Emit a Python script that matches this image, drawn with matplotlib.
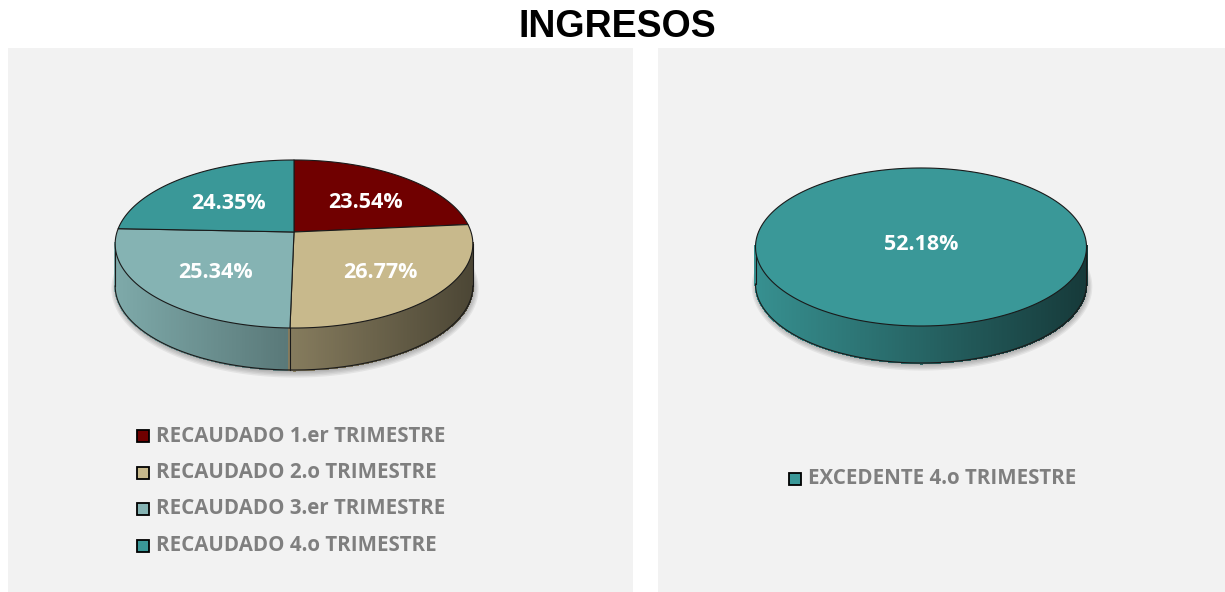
import numpy as np
import matplotlib
matplotlib.use('Agg')
import matplotlib.pyplot as plt
from matplotlib.patches import Polygon, Rectangle
from matplotlib.collections import PolyCollection
from matplotlib.colors import to_rgb

# datos
titulo = 'INGRESOS'
categorias = ['RECAUDADO 1.er TRIMESTRE', 'RECAUDADO 2.o TRIMESTRE',
              'RECAUDADO 3.er TRIMESTRE', 'RECAUDADO 4.o TRIMESTRE']
porcentajes = [23.54, 26.77, 25.34, 24.35]
colores = ['#700000', '#c8b98c', '#85b3b3', '#3a9898']

categorias_exc = ['EXCEDENTE 4.o TRIMESTRE']
porcentajes_exc = [52.18]
colores_exc = ['#3a9898']

K = 0.1429  # perspectiva del pastel
FUENTE = ['Open Sans', 'DejaVu Sans']
GRIS = '#7f7f7f'


def proyectar(cx, cy, a, b, theta, r=1.0):
    s = np.sin(theta)
    c = np.cos(theta)
    den = 1 + K * r * s
    return cx + a * r * c / den, cy - b * r * s / den


def pastel_3d(ax, cx, cy, a, b, h, valores, cols):
    valores = np.asarray(valores, float)
    frac = valores / valores.sum()
    acum = np.concatenate([[0], np.cumsum(frac)])
    lim = np.radians(90 - 360 * acum)  # sentido horario desde arriba

    # sombra
    ts = np.linspace(0, 2 * np.pi, 200)
    for i in range(5):
        sx, sy = proyectar(cx, cy, a + 1.2 * i, b + 1.2 * i, ts)
        ax.add_patch(Polygon(np.c_[sx + 1, sy + h + 2], closed=True,
                             fc='k', ec='none', alpha=0.06, zorder=1))

    # lado frontal con degradado
    t0 = -np.pi + np.arcsin(K)
    t1 = -np.arcsin(K)
    th = np.linspace(t0, t1, 300)
    xs, ys = proyectar(cx, cy, a, b, th)
    xmin, xmax = xs.min(), xs.max()
    quads, fcs = [], []
    for j in range(len(th) - 1):
        tm = 0.5 * (th[j] + th[j + 1])
        pos = ((np.pi / 2 - tm) % (2 * np.pi)) / (2 * np.pi)
        k = min(max(np.searchsorted(acum, pos) - 1, 0), len(cols) - 1)
        xm = 0.5 * (xs[j] + xs[j + 1])
        f = 0.95 - 0.57 * (xm - xmin) / (xmax - xmin)
        fcs.append(tuple(np.clip(np.array(to_rgb(cols[k])) * f, 0, 1)))
        quads.append([(xs[j], ys[j] - 1), (xs[j + 1], ys[j + 1] - 1),
                      (xs[j + 1], ys[j + 1] + h), (xs[j], ys[j] + h)])
    ax.add_collection(PolyCollection(quads, facecolors=fcs, edgecolors=fcs,
                                     linewidths=0.8, antialiased=False, zorder=2))
    ax.plot(xs, ys + h, color='#1a1a1a', lw=0.8, zorder=3)
    for x0, y0 in [(xs[0], ys[0]), (xs[-1], ys[-1])]:
        ax.plot([x0, x0], [y0, y0 + h], color='#1a1a1a', lw=0.8, zorder=3)
    if len(cols) > 1:
        for t in lim:
            tt = (t + np.pi) % (2 * np.pi) - np.pi
            if t0 < tt < t1:
                x0, y0 = proyectar(cx, cy, a, b, tt)
                ax.plot([x0, x0], [y0, y0 + h], color='#1a1a1a', lw=0.8, zorder=3)

    # cara superior
    for k in range(len(cols)):
        arc = np.linspace(lim[k], lim[k + 1], 200)
        px, py = proyectar(cx, cy, a, b, arc)
        if len(cols) > 1:
            pts = np.vstack([[cx, cy], np.c_[px, py]])
        else:
            pts = np.c_[px, py]
        ax.add_patch(Polygon(pts, closed=True, fc=cols[k], ec='#1a1a1a',
                             lw=0.8, zorder=4, joinstyle='round'))

    # etiquetas
    for k, v in enumerate(valores):
        if len(cols) > 1:
            tm = 0.5 * (lim[k] + lim[k + 1])
            lx, ly = proyectar(cx, cy, a, b, tm, 0.6)
            ly += 5
            lx += 4
        else:
            lx, ly = cx, cy + 9
        ax.text(lx, ly, f'{v:.2f}%', ha='center', va='center', color='white',
                fontsize=15.5, fontweight='bold', family=FUENTE, zorder=5)


def leyenda(ax, x, y0, paso, nombres, cols):
    for i, (n, c) in enumerate(zip(nombres, cols)):
        y = y0 + i * paso
        ax.add_patch(Rectangle((x, y - 6), 12, 12, fc=c, ec='black', lw=1.3, zorder=4))
        ax.text(x + 19, y, n, ha='left', va='center', color=GRIS,
                fontsize=14.8, fontweight='bold', family=FUENTE, zorder=4)


fig = plt.figure(figsize=(12.25, 5.92), dpi=100)
ax = fig.add_axes([0, 0, 1, 1])
ax.set_xlim(0, 1225)
ax.set_ylim(592, 0)
ax.axis('off')

ax.add_patch(Rectangle((8, 48), 625, 550, fc='#f2f2f2', ec='none', zorder=0))
ax.add_patch(Rectangle((658, 48), 570, 550, fc='#f2f2f2', ec='none', zorder=0))

ax.text(617, 27, titulo, ha='center', va='center', fontsize=27,
        fontweight='bold', family=['Liberation Sans', 'DejaVu Sans'])

pastel_3d(ax, 294, 232, 177, 82.3, 42, porcentajes, colores)
pastel_3d(ax, 921, 235.7, 163.8, 77.4, 37, porcentajes_exc, colores_exc)

leyenda(ax, 137, 436, 36.5, categorias, colores)
leyenda(ax, 789, 479, 36.5, categorias_exc, colores_exc)

fig.savefig('out.png', dpi=100)
